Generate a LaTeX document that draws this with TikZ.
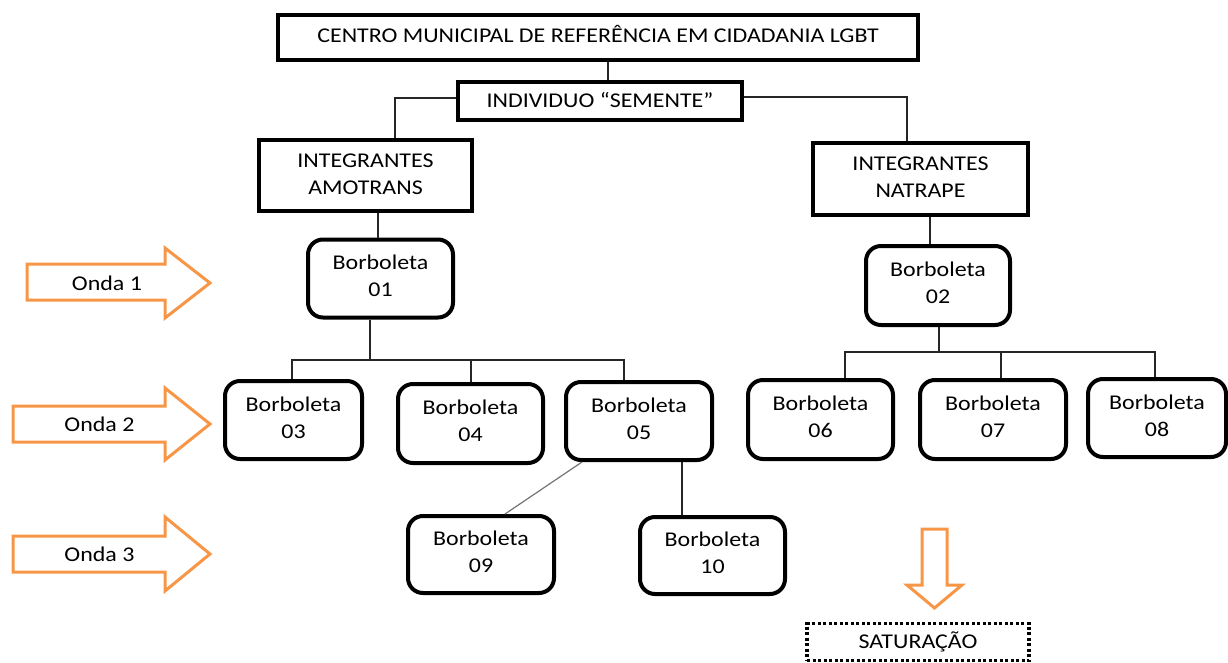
\documentclass[tikz,border=0pt]{standalone}
\usepackage{fontspec}
\setmainfont{Carlito}[FakeStretch=1.14]
\definecolor{orng}{HTML}{F79646}
\begin{document}
\begin{tikzpicture}[x=1pt,y=-1pt,
  sqbox/.style={draw=black,line width=4.5pt,rectangle,align=center,inner sep=0pt},
  bbox/.style={draw=black,line width=4pt,rectangle,rounded corners=15pt,align=center,inner sep=0pt,minimum width=145pt,minimum height=78pt,text depth=5pt},
  conn/.style={draw=black!85,line width=1.5pt},
  thinconn/.style={draw=black!55,line width=1.2pt},
  orarrow/.style={draw=orng,line width=3pt,fill=white,line join=miter},
  lbl/.style={inner sep=0pt,align=center},
  font=\fontsize{21}{27}\selectfont]
\useasboundingbox (0,0) rectangle (1228,663);

\node[sqbox,minimum width=640pt,minimum height=45pt,text depth=7pt] (top) at (598,37.5) {CENTRO MUNICIPAL DE REFERÊNCIA EM CIDADANIA LGBT};
\node[sqbox,minimum width=284pt,minimum height=38pt,text depth=3pt] (seed) at (600,101) {INDIVIDUO “SEMENTE”};
\node[sqbox,minimum width=213pt,minimum height=71pt,text depth=3pt] (amo) at (365.5,175.5) {INTEGRANTES\\AMOTRANS};
\node[sqbox,minimum width=215pt,minimum height=72pt,text depth=3pt] (nat) at (920.5,179) {INTEGRANTES\\NATRAPE};

\node[bbox] (b01) at (380.5,278.5) {Borboleta\\01};
\node[bbox,minimum width=144pt,minimum height=79pt] (b02) at (938,285.5) {Borboleta\\02};
\node[bbox,minimum width=137pt] (b03) at (293.5,420) {Borboleta\\03};
\node[bbox,minimum height=79pt] (b04) at (470.5,423.5) {Borboleta\\04};
\node[bbox,minimum width=146pt] (b05) at (639,421) {Borboleta\\05};
\node[bbox,minimum height=79pt] (b06) at (820.5,419.5) {Borboleta\\06};
\node[bbox,minimum width=146pt,minimum height=79pt] (b07) at (993,419.5) {Borboleta\\07};
\node[bbox,minimum width=138pt] (b08) at (1157,418) {Borboleta\\08};
\node[bbox,minimum width=146pt,minimum height=77pt] (b09) at (481,554.5) {Borboleta\\09};
\node[bbox,minimum height=77pt] (b10) at (712.5,555.5) {Borboleta\\10};

\node[draw=black,line width=3.5pt,dash pattern=on 3pt off 2.5pt,minimum width=222pt,minimum height=37pt,inner sep=0pt] (sat) at (918,642) {SATURAÇÃO};

% connectors
\draw[conn] ([xshift=10pt]top.south) -- ([xshift=8pt]seed.north);
\draw[conn] ([yshift=3pt]seed.west) -| ([xshift=29.5pt]amo.north);
\draw[conn] ([yshift=4pt]seed.east) -| ([xshift=-13.5pt]nat.north);
\draw[conn] ([xshift=12.5pt]amo.south) -- ([xshift=-2.5pt]b01.north);
\draw[conn] ([xshift=9.5pt]nat.south) -- ([xshift=-8pt]b02.north);

\coordinate (j1) at (370,360);
\draw[conn] ([xshift=-10.5pt]b01.south) -- (j1);
\draw[conn] ([xshift=-1.5pt]b03.north) |- (j1);
\draw[conn] (j1) -| ([xshift=0.5pt]b04.north);
\draw[conn] (j1) -| ([xshift=-15pt]b05.north);

\coordinate (j2) at (939,352);
\draw[conn] ([xshift=1pt]b02.south) -- (j2);
\draw[conn] ([xshift=24.5pt]b06.north) |- (j2);
\draw[conn] (j2) -| ([xshift=8pt]b07.north);
\draw[conn] (j2) -| ([xshift=-2pt]b08.north);

\draw[thinconn] ([xshift=-57pt]b05.south) -- ([xshift=24pt]b09.north);
\draw[conn] ([xshift=43pt]b05.south) -- ([xshift=-30.5pt]b10.north);

% orange arrows
\draw[orarrow] (27,264) -- (165,264) -- (165,248) -- (210,283) -- (165,318) -- (165,300) -- (27,300) -- cycle;
\draw[orarrow] (13,406) -- (165,406) -- (165,388) -- (210,424) -- (165,460) -- (165,442) -- (13,442) -- cycle;
\draw[orarrow] (13,536) -- (165,536) -- (165,517) -- (210,554) -- (165,591) -- (165,572) -- (13,572) -- cycle;
\draw[orarrow] (922,529) -- (947,529) -- (947,585) -- (962,585) -- (934.5,608) -- (907,585) -- (922,585) -- cycle;

\node[lbl] (o1) at (107,283) {Onda 1};
\node[lbl] (o2) at (99.5,424) {Onda 2};
\node[lbl] (o3) at (99.5,554) {Onda 3};
\end{tikzpicture}
\end{document}
